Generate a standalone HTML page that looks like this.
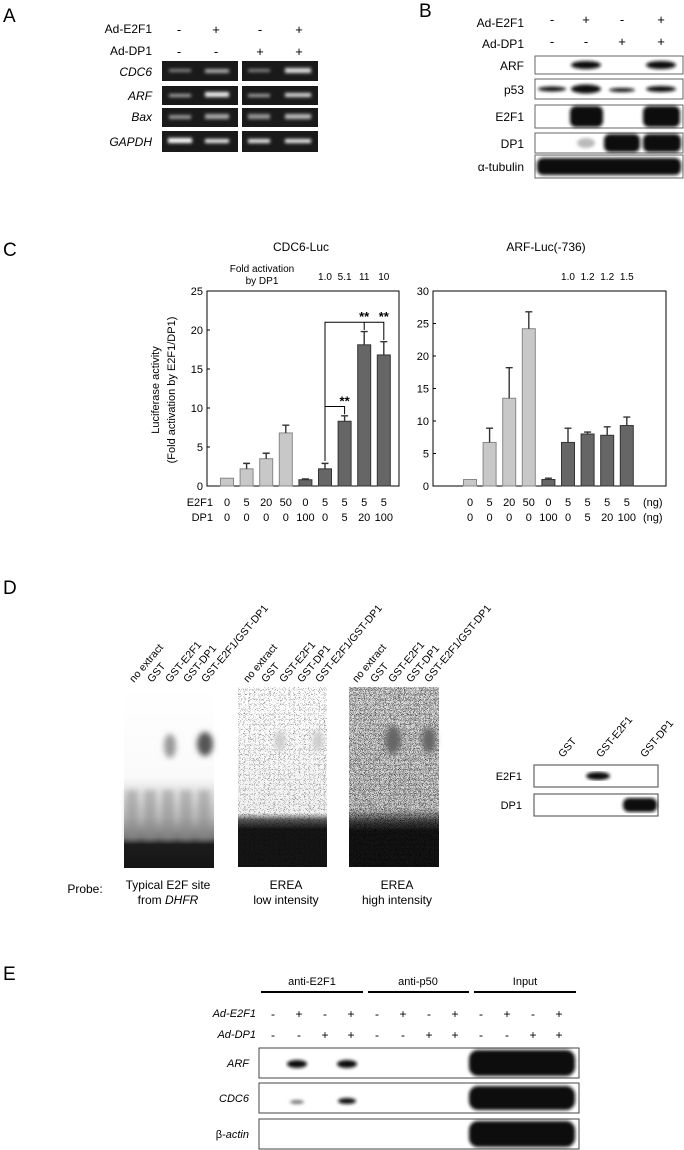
<!DOCTYPE html>
<html><head><meta charset="utf-8"><style>
html,body{margin:0;padding:0;background:#fff;}
svg{display:block;font-family:"Liberation Sans",Arial,sans-serif;}
</style></head><body>
<svg id="fig" width="684" height="1150" viewBox="0 0 684 1150" xmlns="http://www.w3.org/2000/svg">
<defs>
<filter id="noiseL" x="0" y="0" width="1" height="1"><feTurbulence type="fractalNoise" baseFrequency="2.2" numOctaves="1" seed="3"/><feColorMatrix type="matrix" values="0 0 0 0 0  0 0 0 0 0  0 0 0 0 0  0 0 0 14 -8.6"/><feComposite in2="SourceGraphic" operator="in"/></filter>
<filter id="noiseH" x="0" y="0" width="1" height="1"><feTurbulence type="fractalNoise" baseFrequency="2.2" numOctaves="1" seed="7"/><feColorMatrix type="matrix" values="0 0 0 0 0  0 0 0 0 0  0 0 0 0 0  0 0 0 10 -5.2"/><feComposite in2="SourceGraphic" operator="in"/></filter>
<filter id="blur1"><feGaussianBlur stdDeviation="1.5"/></filter>
<filter id="blur3"><feGaussianBlur stdDeviation="3"/></filter>
<linearGradient id="g1" x1="0" y1="0" x2="0" y2="1"><stop offset="0" stop-color="#fff"/><stop offset="0.5" stop-color="#fafafa"/><stop offset="0.72" stop-color="#bbb"/><stop offset="0.83" stop-color="#777"/><stop offset="0.87" stop-color="#1c1c1c"/><stop offset="1" stop-color="#151515"/></linearGradient>
<linearGradient id="g2" x1="0" y1="0" x2="0" y2="1"><stop offset="0" stop-color="#fff"/><stop offset="0.7" stop-color="#f2f2f2"/><stop offset="0.74" stop-color="#555"/><stop offset="0.79" stop-color="#151515"/><stop offset="1" stop-color="#151515"/></linearGradient>
<linearGradient id="g3" x1="0" y1="0" x2="0" y2="1"><stop offset="0" stop-color="#e0e0e0"/><stop offset="0.68" stop-color="#d4d4d4"/><stop offset="0.75" stop-color="#444"/><stop offset="0.8" stop-color="#151515"/><stop offset="1" stop-color="#151515"/></linearGradient>
</defs>

<!-- Panel A -->
<g font-size="12">
<text x="3" y="22" font-size="19">A</text>
<text x="152" y="33" text-anchor="end">Ad-E2F1</text>
<text x="152" y="55" text-anchor="end">Ad-DP1</text>
<g text-anchor="middle" font-size="13">
<text x="179" y="34">-</text><text x="216" y="34">+</text><text x="260" y="34">-</text><text x="299" y="34">+</text>
<text x="179" y="56">-</text><text x="216" y="56">-</text><text x="260" y="56">+</text><text x="299" y="56">+</text>
</g>
<g font-style="italic" text-anchor="end">
<text x="152" y="76">CDC6</text>
<text x="152" y="100">ARF</text>
<text x="152" y="121">Bax</text>
<text x="152" y="146">GAPDH</text>
</g>
<g fill="#1a1a1a">
<rect x="162" y="61" width="76" height="20"/><rect x="242" y="61" width="76" height="20"/>
<rect x="162" y="86" width="76" height="19"/><rect x="242" y="86" width="76" height="19"/>
<rect x="162" y="108" width="76" height="19"/><rect x="242" y="108" width="76" height="19"/>
<rect x="162" y="131" width="76" height="21"/><rect x="242" y="131" width="76" height="21"/>
</g>
<g filter="url(#blur1)">
<rect x="169" y="69" width="22" height="3" fill="#888"/><rect x="205" y="69" width="24" height="4" fill="#aaa"/><rect x="248" y="69" width="22" height="3" fill="#888"/><rect x="285" y="68" width="26" height="5" fill="#ddd"/>
<rect x="169" y="94" width="22" height="3" fill="#aaa"/><rect x="205" y="92" width="24" height="5" fill="#eee"/><rect x="248" y="94" width="22" height="3" fill="#aaa"/><rect x="285" y="93" width="26" height="4" fill="#ddd"/>
<rect x="169" y="115" width="22" height="4" fill="#999"/><rect x="205" y="114" width="24" height="5" fill="#aaa"/><rect x="248" y="114" width="22" height="5" fill="#999"/><rect x="285" y="114" width="26" height="5" fill="#bbb"/>
<rect x="168" y="138" width="24" height="5" fill="#fff"/><rect x="205" y="139" width="24" height="4" fill="#eee"/><rect x="248" y="139" width="22" height="4" fill="#eee"/><rect x="285" y="139" width="26" height="4" fill="#eee"/>
</g>
</g>

<!-- Panel B -->
<g font-size="12">
<text x="419" y="17" font-size="19">B</text>
<text x="524" y="27" text-anchor="end">Ad-E2F1</text>
<text x="524" y="48" text-anchor="end">Ad-DP1</text>
<g text-anchor="middle" font-size="13">
<text x="552" y="24">-</text><text x="586" y="24">+</text><text x="622" y="24">-</text><text x="661" y="24">+</text>
<text x="552" y="46">-</text><text x="586" y="46">-</text><text x="622" y="46">+</text><text x="661" y="46">+</text>
</g>
<g text-anchor="end">
<text x="524" y="70">ARF</text>
<text x="524" y="94">p53</text>
<text x="524" y="121">E2F1</text>
<text x="524" y="148">DP1</text>
<text x="524" y="171">α-tubulin</text>
</g>
<g fill="#fff" stroke="#666" stroke-width="1">
<rect x="535" y="56" width="148" height="18"/><rect x="535" y="79" width="148" height="20"/><rect x="535" y="105" width="148" height="23"/><rect x="535" y="133" width="148" height="20"/><rect x="535" y="155" width="148" height="23"/>
</g>
<g fill="#111" filter="url(#blur1)">
<ellipse cx="586" cy="65" rx="15" ry="4"/><ellipse cx="661" cy="65" rx="15" ry="4"/>
<ellipse cx="552" cy="89" rx="14" ry="2.5"/><ellipse cx="586" cy="89" rx="15" ry="4.5"/><ellipse cx="622" cy="90" rx="13" ry="2"/><ellipse cx="661" cy="89" rx="15" ry="3"/>
<rect x="570" y="106" width="33" height="21" rx="6"/><rect x="643" y="106" width="37" height="21" rx="6"/>
<ellipse cx="586" cy="143" rx="9" ry="5" fill="#bbb"/><rect x="604" y="134" width="36" height="18" rx="6"/><rect x="643" y="134" width="38" height="18" rx="6"/>
<rect x="537" y="158" width="144" height="17" rx="6"/>
</g>
</g>

<!-- Panel C -->
<g font-size="11">
<text x="3" y="256" font-size="19">C</text>
<text x="301" y="251" font-size="12" text-anchor="middle">CDC6-Luc</text>
<text x="546" y="251" font-size="12" text-anchor="middle">ARF-Luc(-736)</text>
<text x="262" y="272" font-size="10" text-anchor="middle">Fold activation</text>
<text x="262" y="284" font-size="10" text-anchor="middle">by DP1</text>
<g id="chartL"></g>
<g id="chartR"></g>
<text transform="translate(159,390) rotate(-90)" text-anchor="middle" font-size="11">Luciferase activity</text>
<text transform="translate(175,390) rotate(-90)" text-anchor="middle" font-size="11">(Fold activation by E2F1/DP1)</text>
<text x="213" y="506" text-anchor="end">E2F1</text>
<text x="213" y="521" text-anchor="end">DP1</text>
<text x="643" y="506">(ng)</text>
<text x="643" y="521">(ng)</text>
</g>

<!-- Panel D -->
<g font-size="11">
<text x="3" y="594" font-size="19">D</text>
<rect x="124" y="687" width="90" height="181" fill="url(#g1)"/>
<g filter="url(#blur3)" opacity="0.5">
<rect x="126" y="790" width="12" height="50" fill="#888"/><rect x="144" y="790" width="12" height="50" fill="#888"/><rect x="162" y="790" width="12" height="50" fill="#888"/><rect x="180" y="790" width="12" height="50" fill="#888"/><rect x="198" y="790" width="12" height="50" fill="#888"/>
</g>
<rect x="238" y="687" width="89" height="180" fill="url(#g2)"/>
<rect x="238" y="687" width="89" height="180" fill="#000" filter="url(#noiseL)" opacity="0.7"/>
<rect x="349" y="687" width="90" height="180" fill="url(#g3)"/>
<rect x="349" y="687" width="90" height="180" fill="#000" filter="url(#noiseH)" opacity="0.8"/>
<g filter="url(#blur3)">
<ellipse cx="170" cy="746" rx="6" ry="12" fill="#999"/><ellipse cx="205" cy="744" rx="8" ry="12" fill="#555"/>
<ellipse cx="280" cy="741" rx="5" ry="10" fill="#ccc"/><ellipse cx="318" cy="741" rx="5" ry="10" fill="#ccc"/>
<ellipse cx="393" cy="740" rx="8" ry="14" fill="#666"/><ellipse cx="429" cy="740" rx="7" ry="13" fill="#666"/>
</g>
<g font-size="10.5">
<text transform="translate(134,683) rotate(-50)">no extract</text><text transform="translate(152,683) rotate(-50)">GST</text><text transform="translate(170,683) rotate(-50)">GST-E2F1</text><text transform="translate(188,683) rotate(-50)">GST-DP1</text><text transform="translate(206,683) rotate(-50)">GST-E2F1/GST-DP1</text>
<text transform="translate(248,683) rotate(-50)">no extract</text><text transform="translate(266,683) rotate(-50)">GST</text><text transform="translate(284,683) rotate(-50)">GST-E2F1</text><text transform="translate(302,683) rotate(-50)">GST-DP1</text><text transform="translate(320,683) rotate(-50)">GST-E2F1/GST-DP1</text>
<text transform="translate(357,683) rotate(-50)">no extract</text><text transform="translate(375,683) rotate(-50)">GST</text><text transform="translate(393,683) rotate(-50)">GST-E2F1</text><text transform="translate(411,683) rotate(-50)">GST-DP1</text><text transform="translate(429,683) rotate(-50)">GST-E2F1/GST-DP1</text>
</g>
<g font-size="12" text-anchor="middle">
<text x="85" y="893">Probe:</text>
<text x="168" y="889">Typical E2F site</text>
<text x="168" y="904">from <tspan font-style="italic">DHFR</tspan></text>
<text x="286" y="889">EREA</text>
<text x="286" y="904">low intensity</text>
<text x="397" y="889">EREA</text>
<text x="397" y="904">high intensity</text>
</g>
<g font-size="10.5">
<text transform="translate(563,758) rotate(-50)">GST</text><text transform="translate(601,758) rotate(-50)">GST-E2F1</text><text transform="translate(645,758) rotate(-50)">GST-DP1</text>
</g>
<text x="522" y="780" font-size="11" text-anchor="end">E2F1</text>
<text x="522" y="809" font-size="11" text-anchor="end">DP1</text>
<rect x="534" y="765" width="124" height="22" fill="#fff" stroke="#444"/>
<rect x="534" y="794" width="124" height="22" fill="#fff" stroke="#444"/>
<ellipse cx="598" cy="776" rx="12" ry="4" fill="#111" filter="url(#blur1)"/>
<rect x="623" y="798" width="34" height="14" rx="6" fill="#111" filter="url(#blur1)"/>
</g>

<!-- Panel E -->
<g font-size="11">
<text x="3" y="980" font-size="19">E</text>
<text x="312" y="985" text-anchor="middle">anti-E2F1</text>
<text x="418" y="985" text-anchor="middle">anti-p50</text>
<text x="525" y="985" text-anchor="middle">Input</text>
<g stroke="#000" stroke-width="2"><line x1="261" y1="992" x2="363" y2="992"/><line x1="368" y1="992" x2="469" y2="992"/><line x1="474" y1="992" x2="576" y2="992"/></g>
<text x="256" y="1017" text-anchor="end" font-style="italic">Ad-E2F1</text>
<text x="256" y="1038" text-anchor="end" font-style="italic">Ad-DP1</text>
<g id="eSigns" text-anchor="middle" font-size="12"></g>
<text x="249" y="1067" text-anchor="end" font-style="italic">ARF</text>
<text x="249" y="1102" text-anchor="end" font-style="italic">CDC6</text>
<text x="249" y="1138" text-anchor="end">β-<tspan font-style="italic">actin</tspan></text>
<g fill="#fff" stroke="#444"><rect x="259" y="1048" width="320" height="30"/><rect x="259" y="1083" width="320" height="30"/><rect x="259" y="1119" width="320" height="30"/></g>
<g fill="#111" filter="url(#blur1)">
<ellipse cx="297" cy="1064" rx="10" ry="4"/><ellipse cx="347" cy="1064" rx="10" ry="4"/>
<ellipse cx="297" cy="1102" rx="7" ry="2" fill="#777"/><ellipse cx="347" cy="1101" rx="9" ry="3"/>
<rect x="469" y="1050" width="106" height="26" rx="9"/><rect x="469" y="1086" width="106" height="24" rx="9"/><rect x="469" y="1121" width="106" height="26" rx="9"/>
</g>
</g>

<script>
// Panel C data
const lanes = ["1","2","3","4","5","6","7","8","9"];
const e2f1Amounts = ["0","5","20","50","0","5","5","5","5"];
const dp1Amounts = ["0","0","0","0","100","0","5","20","100"];
const barShade = ["light","light","light","light","dark","dark","dark","dark","dark"];
const cdc6Values = [1.0, 2.2, 3.5, 6.8, 0.8, 2.2, 8.3, 18.1, 16.8];
const cdc6Errors = [0.0, 0.7, 0.7, 1.0, 0.1, 0.7, 0.7, 1.7, 1.7];
const arfValues = [1.0, 6.7, 13.5, 24.2, 1.0, 6.7, 8.0, 7.8, 9.3];
const arfErrors = [0.0, 2.2, 4.7, 2.6, 0.2, 2.2, 0.3, 1.3, 1.3];
const cdc6Ticks = [0, 5, 10, 15, 20, 25];
const arfTicks = [0, 5, 10, 15, 20, 25, 30];
const cdc6Fold = ["1.0", "5.1", "11", "10"];
const arfFold = ["1.0", "1.2", "1.2", "1.5"];
// Panel E data
const eAdE2F1 = ["-","+","-","+","-","+","-","+","-","+","-","+"];
const eAdDP1 = ["-","-","+","+","-","-","+","+","-","-","+","+"];

const NS = "http://www.w3.org/2000/svg";
function mk(tag, attrs, parent, txt) {
  const el = document.createElementNS(NS, tag);
  for (const k in attrs) el.setAttribute(k, attrs[k]);
  if (txt !== undefined) el.textContent = txt;
  parent.appendChild(el);
  return el;
}
function drawChart(g, x0, x1, firstCenter, step, vals, errs, ticks, fold, name) {
  const yTop = 291, yBot = 486, vmax = ticks[ticks.length - 1];
  const y = v => yBot - (v / vmax) * (yBot - yTop);
  const xc = i => firstCenter + i * step;
  const frame = mk("rect", {x: x0, y: yTop, width: x1 - x0, height: yBot - yTop, fill: "none", stroke: "#000", "stroke-width": 1}, g);
  
  
  ticks.forEach(t => {
    const tl = mk("text", {x: x0 - 4, y: y(t) + 4, "text-anchor": "end", "font-size": 11}, g, String(t));
    
    
    mk("line", {x1: x0, x2: x0 + 3, y1: y(t), y2: y(t), stroke: "#000"}, g);
  });
  vals.forEach((v, i) => {
    const light = barShade[i] === "light";
    const b = mk("rect", {x: xc(i) - 6.5, y: y(v), width: 13, height: yBot - y(v), fill: light ? "#c8c8c8" : "#666", stroke: light ? "#888" : "#333", "stroke-width": 1}, g);
    
    
    if (errs[i] > 0) {
      const top = y(v + errs[i]);
      const e = mk("path", {d: `M${xc(i)},${y(v)}V${top}M${xc(i)-3.5},${top}H${xc(i)+3.5}`, stroke: "#333", "stroke-width": 1.4, fill: "none"}, g);
      
      
    }
    const a = mk("text", {x: xc(i), y: 506, "text-anchor": "middle", "font-size": 11}, g, e2f1Amounts[i]);
    
    
    const d = mk("text", {x: xc(i), y: 521, "text-anchor": "middle", "font-size": 11}, g, dp1Amounts[i]);
    
    
  });
  fold.forEach((f, j) => {
    const ft = mk("text", {x: xc(5 + j), y: 280, "text-anchor": "middle", "font-size": 10}, g, f);
    
    
  });
  return {y, xc};
}
const L = drawChart(document.getElementById("chartL"), 207, 399, 227, 19.6, cdc6Values, cdc6Errors, cdc6Ticks, cdc6Fold, "cdc6");
const R = drawChart(document.getElementById("chartR"), 433, 666, 470, 19.6, arfValues, arfErrors, arfTicks, arfFold, "arf");
(function(){
  const g = document.getElementById("chartL");
  const top6 = cdc6Values[5] + cdc6Errors[5] + 0.3;
  const lvl1 = cdc6Values[6] + cdc6Errors[6] + 1.2;
  const lvl2 = Math.max(cdc6Values[7] + cdc6Errors[7], cdc6Values[8] + cdc6Errors[8]) + 1.2;
  const p1 = mk("path", {d: `M${L.xc(5)},${L.y(top6)}V${L.y(lvl1)}H${L.xc(6)}V${L.y(cdc6Values[6]+cdc6Errors[6]+0.2)}`, fill: "none", stroke: "#000"}, g);
  
  
  const p2 = mk("path", {d: `M${L.xc(5)},${L.y(lvl1)}V${L.y(lvl2)}H${L.xc(8)}V${L.y(cdc6Values[8]+cdc6Errors[8]+0.2)}M${L.xc(7)},${L.y(lvl2)}V${L.y(cdc6Values[7]+cdc6Errors[7]+0.2)}`, fill: "none", stroke: "#000"}, g);
  
  
  [[6, lvl1], [7, lvl2], [8, lvl2]].forEach(([i, l]) => {
    const s = mk("text", {x: L.xc(i), y: L.y(l) - 1, "text-anchor": "middle", "font-size": 13, "font-weight": "bold"}, g, "**");
    
    
  });
})();
(function(){
  const g = document.getElementById("eSigns");
  const xs0 = 273, step = 26.0;
  eAdE2F1.forEach((s, i) => {
    const x = xs0 + i * step;
    const t = mk("text", {x: x, y: 1018}, g, s);
    
    
    const t2 = mk("text", {x: x, y: 1039}, g, eAdDP1[i]);
    
    
  });
})();
</script>
</svg>
</body></html>
